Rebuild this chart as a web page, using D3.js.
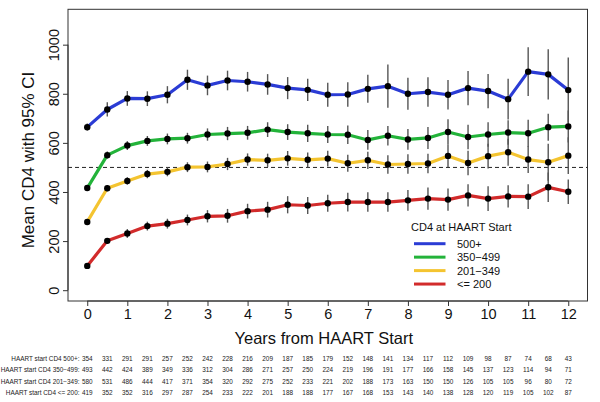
<!DOCTYPE html>
<html><head><meta charset="utf-8">
<script src="https://cdn.jsdelivr.net/npm/d3@7"></script>
<style>body{margin:0;background:#fff}svg{display:block}text{font-family:"Liberation Sans",Arial,Helvetica,sans-serif}</style>
</head><body><svg id="c" width="600" height="402"></svg>
<script>
const times = [0,0.5,1,1.5,2,2.5,3,3.5,4,4.5,5,5.5,6,6.5,7,7.5,8,8.5,9,9.5,10,10.5,11,11.5,12];
const groups = ["500+","350\u2212499","201\u2212349","<= 200"];
const colors = ["#2B3CD5","#23B33A","#F4C430","#D22B2B"];
const mean500 = [664,736,781,780,796,857,834,854,849,838,823,816,796,797,820,831,800,807,796,823,811,778,890,879,815];
const ci500   = [15,29,30,30,35,41,40,40,40,42,45,45,49,50,57,88,65,60,60,70,70,83,99,102,133];
const mean350 = [416,550,589,608,616,619,634,638,641,654,644,639,634,633,612,629,614,620,644,624,634,642,639,664,667];
const ci350   = [10,15,18,20,22,22,25,27,28,30,32,35,35,38,40,40,42,45,52,50,50,50,55,55,65];
const mean201 = [278,415,445,473,482,501,502,514,532,529,537,531,536,517,529,512,514,516,547,518,546,562,532,521,548];
const ci201   = [8,12,15,17,18,20,22,25,25,27,30,30,32,35,35,38,40,40,45,50,50,55,55,75,75];
const mean200 = [99,201,231,261,271,286,301,303,322,328,348,345,354,359,359,359,366,373,369,386,373,382,381,419,401];
const ci200   = [8,12,18,18,20,22,25,28,30,32,35,35,35,38,40,40,42,45,45,45,50,45,50,60,50];
const n500 = [354,331,291,291,257,252,242,228,216,209,187,185,179,152,148,141,134,117,112,109,98,87,74,68,43];
const n350 = [493,442,424,389,349,336,312,304,286,271,257,250,224,219,196,191,177,166,158,145,137,123,114,94,71];
const n201 = [580,531,486,444,417,371,354,320,292,275,252,233,221,202,188,173,163,150,150,126,105,105,96,80,72];
const n200 = [419,352,352,316,297,287,254,233,222,201,188,188,177,167,168,153,143,140,138,128,120,119,105,102,87];
const xTicks = [0,1,2,3,4,5,6,7,8,9,10,11,12];
const yTicks = [0,200,400,600,800,1000];
const tableLabels = ["HAART start CD4 500+:","HAART start CD4 350\u2212499:","HAART start CD4 201\u2212349:","HAART start CD4 <= 200:"];

const means=[mean500,mean350,mean201,mean200], cis=[ci500,ci350,ci201,ci200], ns=[n500,n350,n201,n200];
const svg=d3.select("#c");
const L=68,R=587.5,T=9.3,B=301;
const x=d3.scaleLinear().domain([-0.48,12.48]).range([L,R]);
const y=d3.scaleLinear().domain([-44,1144]).range([B,T]);

// box
svg.append("rect").attr("x",L).attr("y",T).attr("width",R-L).attr("height",B-T).attr("fill","none").attr("stroke","#333").attr("stroke-width",1);

// axes
const xa=svg.append("g").attr("transform",`translate(0,${B})`).call(d3.axisBottom(x).tickValues(xTicks).tickSize(5).tickPadding(3).tickFormat(d3.format("d")));
xa.select(".domain").attr("d",`M${x(0)},0H${x(12)}`).attr("stroke","#333");
xa.selectAll(".tick line").attr("stroke","#333");
xa.selectAll("text").attr("font-size",14.5).attr("fill","#111").attr("font-family",'"Liberation Sans",Arial,sans-serif');
const ya=svg.append("g").attr("transform",`translate(${L},0)`).call(d3.axisLeft(y).tickValues(yTicks).tickSize(5).tickFormat(d3.format("d")));
ya.select(".domain").attr("d",`M0,${y(0)}V${y(1000)}`).attr("stroke","#333");
ya.selectAll(".tick line").attr("stroke","#333");
ya.selectAll("text").attr("font-size",14.5).attr("fill","#111").attr("font-family",'"Liberation Sans",Arial,sans-serif')
  .attr("x",0).attr("dy",0).attr("text-anchor","middle").attr("transform","translate(-9,0) rotate(-90)");

// titles
svg.append("text").attr("x",(x(0)+x(12))/2-4).attr("y",344).attr("text-anchor","middle").attr("font-size",16.5).attr("fill","#111").text("Years from HAART Start");
svg.append("text").attr("transform","translate(34,160) rotate(-90)").attr("text-anchor","middle").attr("font-size",17).attr("fill","#111").text("Mean CD4 with 95% CI");

// dashed ref
svg.append("line").attr("x1",L).attr("x2",R).attr("y1",y(500)).attr("y2",y(500)).attr("stroke","#222").attr("stroke-width",1).attr("stroke-dasharray","4,3");

// series
const line=d3.line().x((d,i)=>x(times[i])).y(d=>y(d));
means.forEach((m,g)=>{
  svg.append("path").datum(m).attr("d",line).attr("fill","none").attr("stroke",colors[g]).attr("stroke-width",3.2).attr("stroke-linejoin","round");
});
means.forEach((m,g)=>{
  svg.append("g").selectAll("line").data(m).join("line")
    .attr("x1",(d,i)=>x(times[i])).attr("x2",(d,i)=>x(times[i]))
    .attr("y1",(d,i)=>y(d-cis[g][i])).attr("y2",(d,i)=>y(d+cis[g][i]))
    .attr("stroke","#555").attr("stroke-width",1.4);
  svg.append("g").selectAll("circle").data(m).join("circle")
    .attr("cx",(d,i)=>x(times[i])).attr("cy",d=>y(d)).attr("r",3.2).attr("fill","#000");
});

// legend
svg.append("text").attr("x",411).attr("y",230.5).attr("font-size",11).attr("fill","#111").text("CD4 at HAART Start");
groups.forEach((gname,g)=>{
  const yy=243.7+g*13.45;
  svg.append("line").attr("x1",414).attr("x2",445.5).attr("y1",yy).attr("y2",yy).attr("stroke",colors[g]).attr("stroke-width",3);
  svg.append("text").attr("x",457).attr("y",yy+4).attr("font-size",11).attr("fill","#111").text(gname);
});

// table
const rowY=[358.7,370,381.3,392.7];
tableLabels.forEach((lab,r)=>{
  svg.append("text").attr("x",79.5).attr("y",rowY[r]+2.3).attr("text-anchor","end").attr("font-size",6.4).attr("fill","#222").text(lab);
  svg.append("g").selectAll("text").data(ns[r]).join("text")
    .attr("x",(d,i)=>x(times[i])).attr("y",rowY[r]+2.3).attr("text-anchor","middle").attr("font-size",6.4).attr("fill","#222").text(d=>d);
});
</script></body></html>
